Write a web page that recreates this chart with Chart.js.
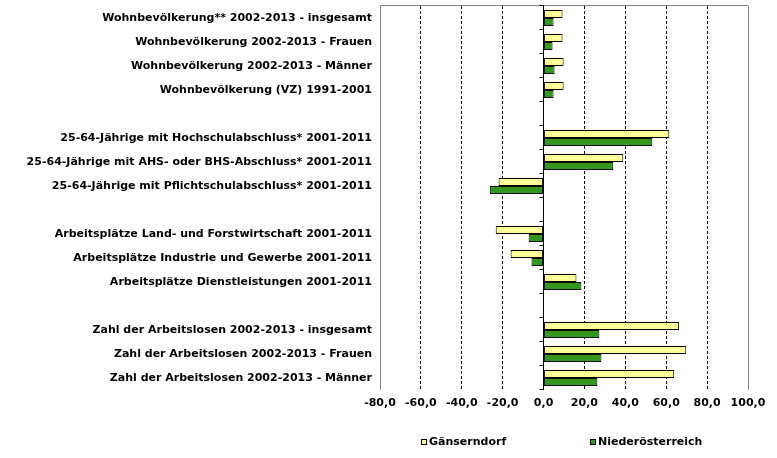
<!DOCTYPE html>
<html><head><meta charset="utf-8">
<script src="https://cdn.jsdelivr.net/npm/chart.js@4/dist/chart.umd.min.js"></script>
<style>html,body{margin:0;padding:0;background:#fff}#wrap{width:777px;height:458px;position:relative}</style>
</head><body><div id="wrap"><canvas id="c" width="777" height="458"></canvas></div>
<script>
const categories = [
  'Wohnbevölkerung** 2002-2013 - insgesamt',
  'Wohnbevölkerung 2002-2013 - Frauen',
  'Wohnbevölkerung 2002-2013 - Männer',
  'Wohnbevölkerung (VZ) 1991-2001',
  '',
  '25-64-Jährige mit Hochschulabschluss* 2001-2011',
  '25-64-Jährige mit AHS- oder BHS-Abschluss* 2001-2011',
  '25-64-Jährige mit Pflichtschulabschluss* 2001-2011',
  '',
  'Arbeitsplätze Land- und Forstwirtschaft 2001-2011',
  'Arbeitsplätze Industrie und Gewerbe 2001-2011',
  'Arbeitsplätze Dienstleistungen 2001-2011',
  '',
  'Zahl der Arbeitslosen 2002-2013 - insgesamt',
  'Zahl der Arbeitslosen 2002-2013 - Frauen',
  'Zahl der Arbeitslosen 2002-2013 - Männer'
];
const seriesNames = ['Gänserndorf', 'Niederösterreich'];
const gaenserndorf = [9.3, 9.3, 9.8, 9.8, null, 61.5, 39.0, -22.0, null, -23.4, -16.1, 16.1, null, 66.3, 69.8, 63.9];
const niederoesterreich = [4.9, 4.4, 5.4, 4.9, null, 53.2, 34.1, -26.3, null, -7.3, -5.9, 18.5, null, 27.3, 28.3, 26.3];
const xMin = -80, xMax = 100, xStep = 20;

const FONT = 'DejaVu Sans';
const fmt = v => v.toFixed(1).replace('.', ',');

const decor = {
  id: 'decor',
  beforeDatasetsDraw(chart) {
    const {ctx, chartArea: a} = chart;
    ctx.save();
    ctx.strokeStyle = '#808080';
    ctx.lineWidth = 1;
    ctx.beginPath();
    ctx.moveTo(a.left, a.top - 0.5);
    ctx.lineTo(a.right, a.top - 0.5);
    ctx.stroke();
    ctx.restore();
  },
  afterDatasetsDraw(chart) {
    const {ctx, chartArea: a, scales: {x, y}} = chart;
    const x0 = Math.floor(x.getPixelForValue(0)) + 0.5;
    ctx.save();
    ctx.strokeStyle = '#000';
    ctx.lineWidth = 1;
    ctx.beginPath();
    ctx.moveTo(x0, a.top - 1);
    ctx.lineTo(x0, a.bottom);
    for (let i = 0; i <= categories.length; i++) {
      const yy = Math.round(y.getPixelForValue(i - 0.5)) - 0.5;
      ctx.moveTo(x0 - 4, yy);
      ctx.lineTo(x0, yy);
    }
    ctx.stroke();
    ctx.restore();
  },
  afterDraw(chart) {
    const {ctx} = chart;
    const starts = [421, 590];
    const ly = 442;
    ctx.save();
    ctx.font = 'bold 11px ' + FONT;
    ctx.textBaseline = 'middle';
    ctx.textAlign = 'left';
    chart.data.datasets.forEach((ds, i) => {
      const bx = starts[i];
      ctx.fillStyle = ds.backgroundColor;
      ctx.fillRect(bx, ly - 3, 6, 6);
      ctx.strokeStyle = '#000';
      ctx.lineWidth = 1;
      ctx.strokeRect(bx + 0.5, ly - 2.5, 5, 5);
      ctx.fillStyle = '#000';
      ctx.fillText(ds.label, bx + 8, ly);
    });
    ctx.restore();
  }
};

const isEdge = v => v === xMin || v === xMax;

new Chart(document.getElementById('c'), {
  type: 'bar',
  data: {
    labels: categories,
    datasets: [
      {label: seriesNames[0], data: gaenserndorf, backgroundColor: '#FFFF99', borderColor: '#000', borderWidth: 1, borderSkipped: false},
      {label: seriesNames[1], data: niederoesterreich, backgroundColor: '#31991F', borderColor: '#000', borderWidth: 1, borderSkipped: false}
    ]
  },
  options: {
    indexAxis: 'y',
    responsive: false,
    devicePixelRatio: 1,
    animation: false,
    layout: {padding: {left: 0, right: 29, top: 6, bottom: 0}},
    datasets: {bar: {categoryPercentage: 2 / 3, barPercentage: 1}},
    plugins: {legend: {display: false}, tooltip: {enabled: false}},
    scales: {
      x: {
        type: 'linear', min: xMin, max: xMax,
        ticks: {stepSize: xStep, callback: v => fmt(v), color: '#000', font: {family: FONT, size: 11, weight: 'bold'}, padding: 7, maxRotation: 0},
        grid: {
          drawTicks: false,
          color: c => (c.tick && isEdge(c.tick.value)) ? '#808080' : (c.tick && c.tick.value === 0 ? 'rgba(0,0,0,0)' : '#000'),
          lineWidth: 1
        },
        border: {display: false, dash: c => (c.tick && !isEdge(c.tick.value) && c.tick.value !== 0) ? [3, 2] : []},
        afterFit: s => { s.height = 68; s.paddingLeft = 0; s.paddingRight = 0; }
      },
      y: {
        ticks: {color: '#000', font: {family: FONT, size: 11, weight: 'bold'}, padding: 8, autoSkip: false},
        grid: {display: false, drawTicks: false},
        border: {display: false},
        afterFit: s => { s.width = 380; s.paddingTop = 0; s.paddingBottom = 0; }
      }
    }
  },
  plugins: [decor]
});
</script>
</body></html>
